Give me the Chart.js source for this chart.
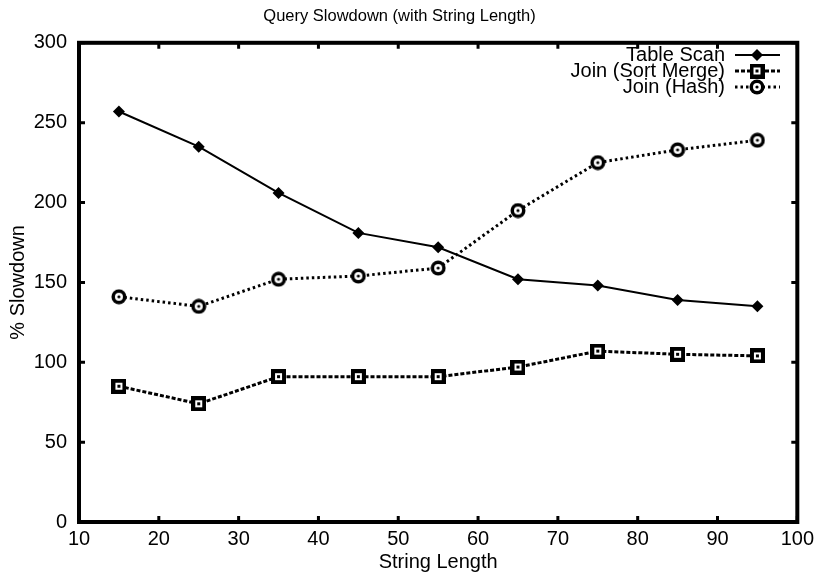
<!DOCTYPE html>
<html>
<head>
<meta charset="utf-8">
<script src="https://cdn.jsdelivr.net/npm/chart.js@4.4.1/dist/chart.umd.min.js"></script>
<style>
  html, body { margin: 0; padding: 0; background: #fff; }
  #wrap { width: 819px; height: 576px; }
</style>
</head>
<body>
<div id="wrap"><canvas id="myChart" width="819" height="576"></canvas></div>
<script>
// datos
const stringLength = [15, 25, 35, 45, 55, 65, 75, 85, 95];
const tableScan = [257, 235, 206, 181, 172, 152, 148, 139, 135];
const sortMerge = [85, 74, 91, 91, 91, 97, 107, 105, 104];
const hashJoin = [141, 135, 152, 154, 159, 195, 225, 233, 239];
const seriesNames = ['Table Scan', 'Join (Sort Merge)', 'Join (Hash)'];
const xTicks = [10, 20, 30, 40, 50, 60, 70, 80, 90, 100];
const yTicks = [0, 50, 100, 150, 200, 250, 300];

const FONT = 'Liberation Sans, Arial, Helvetica, sans-serif';

// marcadores dibujados a mano (cuadrado y circulo con punto al centro)
function squareMarker() {
    const c = document.createElement('canvas');
    c.width = 15; c.height = 15;
    const g = c.getContext('2d');
    g.fillStyle = '#000'; g.fillRect(0, 0, 15, 15);
    g.fillStyle = '#fff'; g.fillRect(4, 4, 7, 7);
    g.fillStyle = '#000'; g.fillRect(6, 6, 3, 3);
    return c;
}
function circleMarker() {
    const c = document.createElement('canvas');
    c.width = 16; c.height = 16;
    const g = c.getContext('2d');
    g.fillStyle = '#000';
    g.beginPath(); g.arc(8, 8, 7.5, 0, Math.PI * 2); g.fill();
    g.fillStyle = '#fff';
    g.beginPath(); g.arc(8, 8, 4, 0, Math.PI * 2); g.fill();
    g.fillStyle = '#000';
    g.beginPath(); g.arc(8, 8, 1.6, 0, Math.PI * 2); g.fill();
    return c;
}
const sqImg = squareMarker();
const ciImg = circleMarker();

function toPoints(ys) {
    return stringLength.map((x, i) => ({ x: x, y: ys[i] }));
}

// marco grueso con marcas hacia adentro (estilo gnuplot)
const framePlugin = {
    id: 'frame',
    afterDraw(chart) {
        const { ctx, chartArea: a, scales } = chart;
        ctx.save();
        ctx.strokeStyle = '#000';
        ctx.lineWidth = 3;
        const len = 6;
        xTicks.forEach(v => {
            const px = scales.x.getPixelForValue(v);
            ctx.beginPath();
            ctx.moveTo(px, a.bottom); ctx.lineTo(px, a.bottom - len);
            ctx.moveTo(px, a.top); ctx.lineTo(px, a.top + len);
            ctx.stroke();
        });
        yTicks.forEach(v => {
            const py = scales.y.getPixelForValue(v);
            ctx.beginPath();
            ctx.moveTo(a.left, py); ctx.lineTo(a.left + len, py);
            ctx.moveTo(a.right, py); ctx.lineTo(a.right - len, py);
            ctx.stroke();
        });
        ctx.lineWidth = 4;
        ctx.strokeRect(a.left, a.top, a.right - a.left, a.bottom - a.top);
        ctx.restore();
    }
};

// leyenda a la derecha, texto alineado a la derecha
const legendPlugin = {
    id: 'gpLegend',
    afterDraw(chart) {
        const ctx = chart.ctx;
        ctx.save();
        ctx.font = '20px ' + FONT;
        ctx.fillStyle = '#000';
        ctx.textAlign = 'right';
        ctx.textBaseline = 'middle';
        chart.data.datasets.forEach((ds, i) => {
            const y = 55 + i * 16;
            ctx.fillText(ds.label, 725, y);
            ctx.beginPath();
            ctx.strokeStyle = '#000';
            ctx.lineWidth = ds.borderWidth;
            ctx.setLineDash(ds.borderDash || []);
            ctx.moveTo(735, y); ctx.lineTo(780, y);
            ctx.stroke();
            ctx.setLineDash([]);
            const mx = 757;
            if (ds.pointStyle === 'rectRot') {
                ctx.beginPath();
                ctx.moveTo(mx, y - 6); ctx.lineTo(mx + 6, y);
                ctx.lineTo(mx, y + 6); ctx.lineTo(mx - 6, y);
                ctx.closePath(); ctx.fill();
            } else {
                const img = ds.pointStyle;
                ctx.drawImage(img, mx - img.width / 2, y - img.height / 2);
            }
        });
        ctx.restore();
    }
};

const ctx = document.getElementById('myChart').getContext('2d');
const myChart = new Chart(ctx, {
    type: 'line',
    data: {
        datasets: [{
            label: seriesNames[0],
            data: toPoints(tableScan),
            borderColor: '#000',
            backgroundColor: '#000',
            borderWidth: 2,
            pointStyle: 'rectRot',
            pointRadius: 6,
            pointBorderWidth: 0
        }, {
            label: seriesNames[1],
            data: toPoints(sortMerge),
            borderColor: '#000',
            borderWidth: 3,
            borderDash: [4, 2],
            pointStyle: sqImg
        }, {
            label: seriesNames[2],
            data: toPoints(hashJoin),
            borderColor: '#000',
            borderWidth: 3,
            borderDash: [2.5, 3],
            pointStyle: ciImg
        }]
    },
    options: {
        responsive: false,
        animation: false,
        layout: { padding: { left: 0, right: 20, top: 0, bottom: 0 } },
        plugins: {
            legend: { display: false },
            tooltip: { enabled: false },
            title: {
                display: true,
                text: 'Query Slowdown (with String Length)',
                color: '#000',
                font: { family: FONT, size: 16.5, weight: 'normal' },
                padding: { top: 7, bottom: 16 }
            }
        },
        scales: {
            x: {
                type: 'linear',
                min: 10, max: 100,
                grid: { display: false, drawTicks: false },
                border: { display: false },
                afterFit: s => { s.height = 54; },
                ticks: {
                    stepSize: 10,
                    color: '#000',
                    padding: 5,
                    font: { family: FONT, size: 20 }
                },
                title: {
                    display: true,
                    text: 'String Length',
                    color: '#000',
                    font: { family: FONT, size: 20 },
                    padding: { top: 0, bottom: 2 }
                }
            },
            y: {
                min: 0, max: 300,
                grid: { display: false, drawTicks: false },
                border: { display: false },
                afterFit: s => { s.width = 79; },
                ticks: {
                    stepSize: 50,
                    color: '#000',
                    padding: 12,
                    font: { family: FONT, size: 20 }
                },
                title: {
                    display: true,
                    text: '% Slowdown',
                    color: '#000',
                    font: { family: FONT, size: 20 },
                    padding: { top: 6, bottom: 0 }
                }
            }
        }
    },
    plugins: [framePlugin, legendPlugin]
});
</script>
</body>
</html>
